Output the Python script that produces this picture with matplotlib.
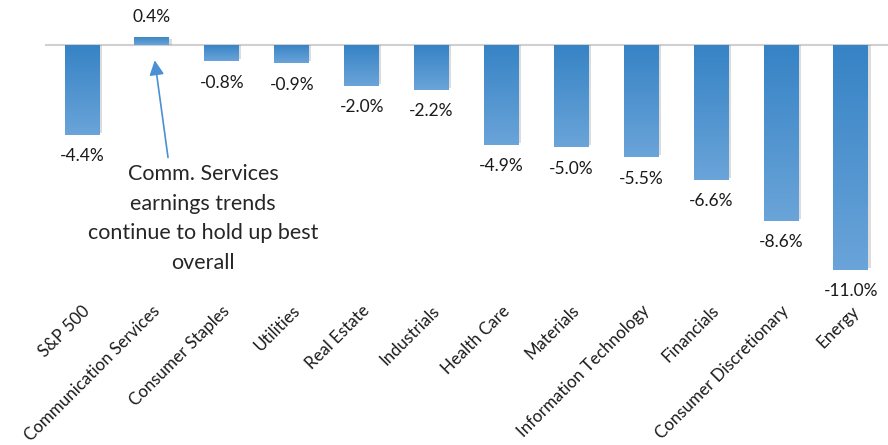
import matplotlib.pyplot as plt
import matplotlib.colors as mcolors
import numpy as np

plt.rcParams['font.family'] = ['Lato', 'DejaVu Sans']

sectors = ['S&P 500', 'Communication Services', 'Consumer Staples', 'Utilities',
           'Real Estate', 'Industrials', 'Health Care', 'Materials',
           'Information Technology', 'Financials', 'Consumer Discretionary', 'Energy']
growth = [-4.4, 0.4, -0.8, -0.9, -2.0, -2.2, -4.9, -5.0, -5.5, -6.6, -8.6, -11.0]

fig = plt.figure(figsize=(8.88, 4.45), dpi=100)
# axes spans x 45..888 px, y 0..290 px from top
ax = fig.add_axes([45 / 888, 1 - 290 / 445, 843 / 888, 290 / 445])

x = np.arange(len(sectors))
width = 0.5
ax.set_xlim(-0.53, len(sectors) - 1 + 0.53)
ax.set_ylim(-11.98, 2.2)

# soft shadow behind each bar
ax.bar(x + 0.03, np.array(growth) - np.sign(growth) * 0.1, width,
       color='#8c8c8c', alpha=0.3, zorder=1, linewidth=0)

bars = ax.bar(x, growth, width, color='none', zorder=2, linewidth=0)

cmap = mcolors.LinearSegmentedColormap.from_list('g', ['#3683c5', '#6aa4d9'])
grad = np.linspace(0, 1, 256).reshape(-1, 1)
for b, v in zip(bars, growth):
    x0 = b.get_x()
    top, bot = (v, 0) if v > 0 else (0, v)
    im = ax.imshow(grad, cmap=cmap, aspect='auto', zorder=3,
                   extent=(x0, x0 + width, bot, top), origin='upper')
    im.set_clip_path(b)

ax.axhline(0, color='#d0d0d0', linewidth=1.5, zorder=0)

for xi, v in zip(x, growth):
    if v > 0:
        ax.text(xi, v + 0.6, f'{v:.1f}%', ha='center', va='bottom',
                fontsize=12.5, color='#1a1a1a')
    else:
        ax.text(xi, v - 0.65, f'{v:.1f}%', ha='center', va='top',
                fontsize=12.5, color='#1a1a1a')

ax.set_xticks(x)
ax.set_xticklabels(sectors, rotation=45, ha='right', rotation_mode='anchor',
                   fontsize=12.2, color='#1a1a1a')
ax.tick_params(axis='x', length=0, pad=9)
ax.set_yticks([])
for s in ax.spines.values():
    s.set_visible(False)

# callout arrow and text
ax.annotate('', xy=(1.04, -0.75), xytext=(1.23, -5.5),
            arrowprops=dict(arrowstyle='-|>', color='#4a90d2', lw=1.2,
                            mutation_scale=22, shrinkA=0, shrinkB=0),
            zorder=5)
ax.text(1.73, -5.8,
        'Comm. Services\nearnings trends\ncontinue to hold up best\noverall',
        ha='center', va='top', fontsize=15.5, color='#262626', linespacing=1.62)

fig.savefig('out.png', dpi=100)
